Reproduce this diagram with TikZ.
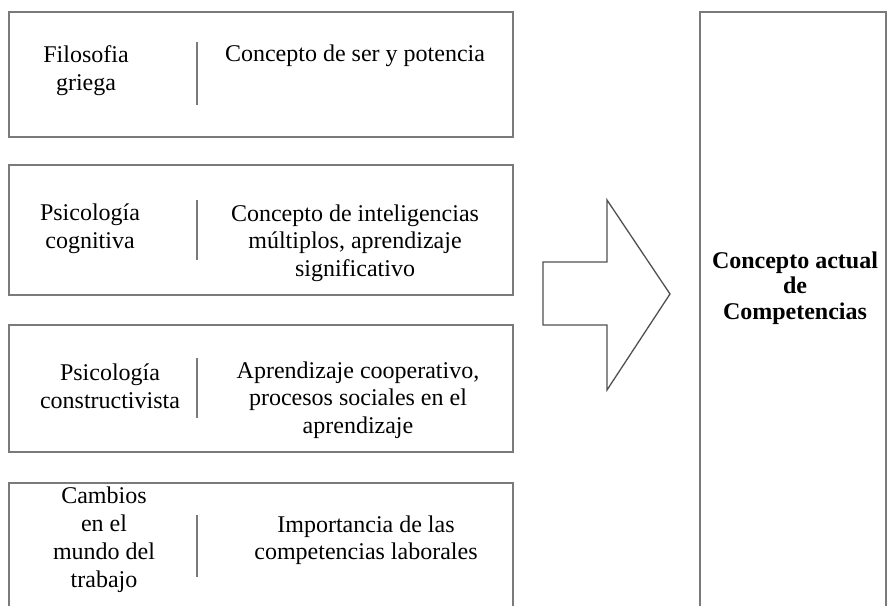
\documentclass[tikz,border=0pt]{standalone}
\usepackage{fontspec}
\setmainfont{Liberation Serif}
\definecolor{framegray}{HTML}{7A7A7A}
\definecolor{arrowgray}{HTML}{505050}
\tikzset{
	framebox/.style={draw=framegray, line width=1.6pt},
	divider/.style={draw=framegray, line width=1.6pt},
	origen/.style={align=center, inner sep=0pt, font=\fontsize{24}{28}\selectfont},
	aporte/.style={align=center, inner sep=0pt, font=\fontsize{24}{27.5}\selectfont},
	resultado/.style={align=center, inner sep=0pt, font=\fontsize{24}{25.5}\selectfont\bfseries}
}
\begin{document}
\begin{tikzpicture}[x=1pt,y=-1pt]
		\useasboundingbox (0,0) rectangle (887,606);
		\draw[framebox] (9,12) rectangle (513,137);
		\draw[framebox] (9,165) rectangle (513,295);
		\draw[framebox] (9,325) rectangle (513,452);
		\draw[framebox] (9,606) -- (9,483) -- (513,483) -- (513,606);
		\draw[framebox] (700,606) -- (700,12) -- (886,12) -- (886,606);
		\draw[divider] (197,42) -- (197,105);
		\draw[divider] (197,200) -- (197,260);
		\draw[divider] (197,358) -- (197,418);
		\draw[divider] (197,515) -- (197,577);
		\draw[draw=arrowgray, line width=1.3pt, line join=miter] (543,262) -- (607,262) -- (607,200) -- (670,294) -- (607,390) -- (607,325) -- (543,325) -- cycle;
		\node (filosofia) at (86,71) [origen] {Filosofia\\griega};
		\node (ser) at (355,56) [aporte] {Concepto de ser y potencia};
		\node (cognitiva) at (90,229) [origen] {Psicología\\cognitiva};
		\node (inteligencias) at (355,243) [aporte] {Concepto de inteligencias\\múltiplos, aprendizaje\\significativo};
		\node (constructivista) at (110,386) [origen] {Psicología\\constructivista};
		\node (cooperativo) at (358,400) [aporte] {Aprendizaje cooperativo,\\procesos sociales en el\\aprendizaje};
		\node (trabajo) at (104,540) [origen] {Cambios\\en el\\mundo del\\trabajo};
		\node (laborales) at (366,540) [aporte] {Importancia de las\\competencias laborales};
		\node (actual) at (795,288) [resultado] {Concepto actual\\de\\Competencias};
	\end{tikzpicture}
\end{document}
